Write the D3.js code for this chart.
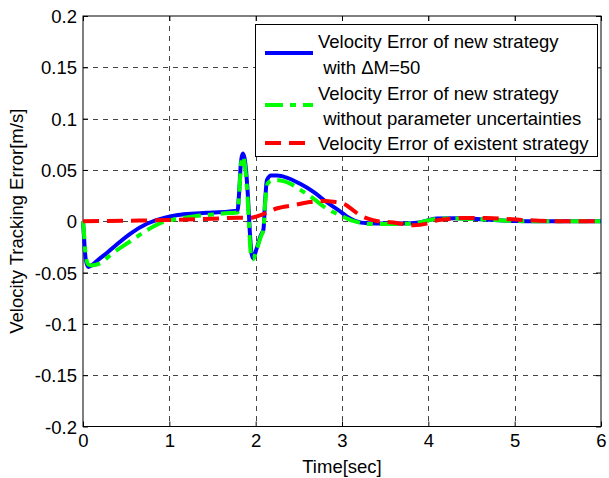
<!DOCTYPE html>
<html>
<head>
<meta charset="utf-8">
<script src="https://cdn.jsdelivr.net/npm/d3@7"></script>
<style>
  html, body { margin: 0; padding: 0; background: #fff; }
  svg { display: block; }
  text { font-family: "Liberation Sans", Arial, sans-serif; fill: #000; }
</style>
</head>
<body>
<svg id="chart" width="609" height="478"></svg>
<script>
// ---- data ----
const xTicks = [0, 1, 2, 3, 4, 5, 6];
const yTicks = [-0.2, -0.15, -0.1, -0.05, 0, 0.05, 0.1, 0.15, 0.2];
const yTickLabels = ["-0.2", "-0.15", "-0.1", "-0.05", "0", "0.05", "0.1", "0.15", "0.2"];

const blueT = [0, 0.015, 0.03, 0.06, 0.1, 0.17, 0.29, 0.4, 0.55, 0.74, 0.95, 1.1, 1.3, 1.5, 1.7, 1.79, 1.81, 1.83, 1.85, 1.87, 1.89, 1.91, 1.93, 1.95, 1.97, 2.01, 2.06, 2.09, 2.11, 2.13, 2.18, 2.25, 2.36, 2.51, 2.67, 2.82, 2.98, 3.05, 3.15, 3.3, 3.5, 3.7, 3.9, 4.0, 4.1, 4.33, 4.6, 5.0, 5.3, 6.0];
const blueV = [0, -0.02, -0.036, -0.0445, -0.043, -0.038, -0.030, -0.022, -0.012, -0.0025, 0.0035, 0.006, 0.0075, 0.0085, 0.0095, 0.0105, 0.03, 0.058, 0.066, 0.062, 0.048, 0.025, -0.007, -0.030, -0.036, -0.027, -0.0136, -0.008, 0.02, 0.040, 0.0445, 0.0445, 0.0425, 0.0367, 0.0286, 0.0188, 0.0095, 0.005, 0.0005, -0.002, -0.0023, -0.0023, -0.0012, 0.001, 0.0026, 0.0029, 0.002, 0.0003, 0, 0];

const greenT = [0, 0.01, 0.03, 0.06, 0.1, 0.2, 0.33, 0.54, 0.74, 0.93, 1.12, 1.3, 1.5, 1.7, 1.79, 1.81, 1.83, 1.85, 1.87, 1.89, 1.91, 1.93, 1.95, 1.97, 2.01, 2.06, 2.09, 2.11, 2.14, 2.2, 2.26, 2.4, 2.51, 2.67, 2.82, 2.98, 3.13, 3.3, 3.5, 3.7, 3.9, 4.0, 4.1, 4.33, 4.6, 5.0, 5.3, 6.0];
const greenV = [0, -0.01, -0.032, -0.042, -0.043, -0.041, -0.032, -0.020, -0.0088, -0.0007, 0.0026, 0.005, 0.0065, 0.008, 0.0085, 0.028, 0.055, 0.063, 0.058, 0.042, 0.018, -0.015, -0.036, -0.037, -0.028, -0.015, -0.008, 0.018, 0.037, 0.040, 0.040, 0.0367, 0.031, 0.022, 0.0124, 0.0058, 0.0003, -0.0026, -0.0028, -0.0025, -0.0012, 0.0008, 0.0024, 0.0028, 0.002, 0.0003, 0, 0];

const redT = [0, 0.5, 1.0, 1.5, 1.8, 1.95, 2.05, 2.24, 2.44, 2.63, 2.8, 2.9, 3.02, 3.13, 3.21, 3.3, 3.4, 3.52, 3.63, 3.83, 3.98, 4.08, 4.17, 4.41, 4.67, 5.02, 5.37, 5.6, 6.0];
const redV = [0, 0.0005, 0.0012, 0.0025, 0.0035, 0.0035, 0.0058, 0.0124, 0.0156, 0.0188, 0.0198, 0.019, 0.017, 0.0107, 0.0058, 0.0025, 0.0003, -0.0007, -0.0016, -0.0039, -0.0023, 0.0005, 0.0016, 0.0032, 0.0032, 0.0016, 0.0003, 0, 0];

const legendLabels = [
  ["Velocity Error of new strategy", " with \u0394M=50"],
  ["Velocity Error of new strategy", " without parameter uncertainties"],
  ["Velocity Error of existent strategy"]
];

// ---- layout ----
const L = 83, R = 601, T = 16, B = 426.5;
const svg = d3.select("#chart");
const x = d3.scaleLinear().domain([0, 6]).range([L, R]);
const y = d3.scaleLinear().domain([-0.2, 0.2]).range([B, T]);
const FS = 18.5;

// grid
const grid = svg.append("g").attr("stroke", "#444").attr("stroke-width", 1).attr("stroke-dasharray", "5,5").attr("fill", "none");
xTicks.filter(d => d > 0 && d < 6).forEach(d => {
  grid.append("line").attr("x1", Math.round(x(d)) + 0.5).attr("x2", Math.round(x(d)) + 0.5).attr("y1", T).attr("y2", B);
});
yTicks.filter(d => d > -0.2 && d < 0.2).forEach(d => {
  grid.append("line").attr("y1", Math.round(y(d)) + 0.5).attr("y2", Math.round(y(d)) + 0.5).attr("x1", L).attr("x2", R);
});

// axes via d3 (ticks inward)
const xAxisB = d3.axisBottom(x).tickValues(xTicks).tickSize(-5).tickSizeOuter(0).tickFormat(d3.format("d")).tickPadding(10);
const xAxisT = d3.axisTop(x).tickValues(xTicks).tickSize(-5).tickSizeOuter(0).tickFormat("");
const yAxisL = d3.axisLeft(y).tickValues(yTicks).tickSize(-5).tickSizeOuter(0).tickFormat((d, i) => yTickLabels[i]).tickPadding(10);
const yAxisR = d3.axisRight(y).tickValues(yTicks).tickSize(-5).tickSizeOuter(0).tickFormat("");

function styleAxis(g) {
  g.select(".domain").remove();
  g.selectAll("line").attr("stroke", "#000");
  g.selectAll("text").attr("font-size", FS).attr("font-family", "Liberation Sans, Arial, sans-serif").attr("fill", "#000");
}
svg.append("g").attr("transform", `translate(0,${B})`).call(xAxisB).call(styleAxis)
  .selectAll("text").attr("dy", null).attr("y", 20.5).attr("dominant-baseline", "auto");
svg.append("g").attr("transform", `translate(0,${T})`).call(xAxisT).call(styleAxis);
svg.append("g").attr("transform", `translate(${L},0)`).call(yAxisL).call(styleAxis)
  .selectAll("text").attr("dy", null).attr("y", 6.5).attr("x", -6);
svg.append("g").attr("transform", `translate(${R},0)`).call(yAxisR).call(styleAxis);

// box
svg.append("rect").attr("x", L).attr("y", T).attr("width", R - L).attr("height", B - T)
  .attr("fill", "none").attr("stroke", "#000").attr("stroke-width", 1);

// lines
const line = d3.line().x(d => x(d[0])).y(d => y(d[1])).curve(d3.curveMonotoneX);
const blue = blueT.map((t, i) => [t, blueV[i]]);
const green = greenT.map((t, i) => [t, greenV[i]]);
const red = redT.map((t, i) => [t, redV[i]]);

const series = [
  { data: blue, color: "#0000ff", dash: null },
  { data: green, color: "#00ff00", dash: "18,7,6,7" },
  { data: red, color: "#ff0000", dash: "16,8" }
];
series.forEach(s => {
  svg.append("path").datum(s.data).attr("d", line)
    .attr("fill", "none").attr("stroke", s.color).attr("stroke-width", 4)
    .attr("stroke-linejoin", "round")
    .attr("stroke-dasharray", s.dash);
});

// legend
const lg = svg.append("g");
lg.append("rect").attr("x", 255.5).attr("y", 24.5).attr("width", 342).attr("height", 132)
  .attr("fill", "#fff").attr("stroke", "#000").attr("stroke-width", 1);
const legendLineY = [53, 105, 143];
const legendTextY = [[48, 73.5], [100, 125], [149.5]];
series.forEach((s, i) => {
  lg.append("line").attr("x1", 265).attr("x2", 313).attr("y1", legendLineY[i]).attr("y2", legendLineY[i])
    .attr("stroke", s.color).attr("stroke-width", 4).attr("stroke-dasharray", s.dash);
  legendLabels[i].forEach((txt, j) => {
    lg.append("text").attr("x", 318).attr("y", legendTextY[i][j]).attr("font-size", FS)
      .attr("xml:space", "preserve").style("white-space", "pre").text(txt);
  });
});

// axis labels
svg.append("text").attr("x", (L + R) / 2).attr("y", 472.5).attr("text-anchor", "middle")
  .attr("font-size", FS).text("Time[sec]");
svg.append("text").attr("transform", `translate(22.5,${(T + B) / 2}) rotate(-90)`).attr("text-anchor", "middle")
  .attr("font-size", FS).text("Velocity Tracking Error[m/s]");
</script>
</body>
</html>
